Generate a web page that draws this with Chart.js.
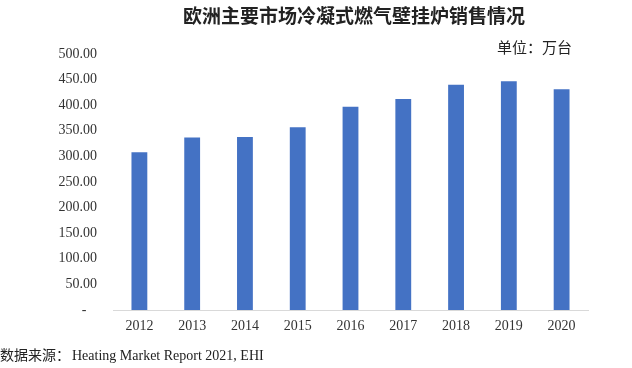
<!DOCTYPE html>
<html>
<head>
<meta charset="utf-8">
<script src="https://cdn.jsdelivr.net/npm/chart.js@4"></script>
<style>
  html, body { margin: 0; padding: 0; background: #fff; }
  #wrap { position: relative; width: 632px; height: 368px; }
  #title { position: absolute; left: 183px; top: 1px; font: bold 19px "Noto Sans CJK SC"; color: #222; white-space: nowrap; }
  #unit { position: absolute; left: 497px; top: 36px; font: 15px "Noto Sans CJK SC"; color: #222; white-space: nowrap; }
  #source { position: absolute; left: 0px; top: 344px; font: 14px "Liberation Serif", "Noto Sans CJK SC"; color: #222; white-space: nowrap; }
  #source span { font-family: "Noto Sans CJK SC"; font-size: 14px; margin-right: 2px; }
</style>
</head>
<body>
<div id="wrap">
  <canvas id="grafico" width="632" height="368"></canvas>
  <div id="title">欧洲主要市场冷凝式燃气壁挂炉销售情况</div>
  <div id="unit">单位：万台</div>
  <div id="source"><span>数据来源：</span>Heating Market Report 2021, EHI</div>
</div>
<script>
const years = ['2012', '2013', '2014', '2015', '2016', '2017', '2018', '2019', '2020'];
const sales = [308, 337, 338, 357, 397, 412, 440, 447, 431];
const yTicks = [0, 50, 100, 150, 200, 250, 300, 350, 400, 450, 500];

const ctx = document.getElementById('grafico').getContext('2d');

new Chart(ctx, {
  type: 'bar',
  data: {
    labels: years,
    datasets: [{
      data: sales,
      backgroundColor: '#4472C4',
      barPercentage: 0.3,
      categoryPercentage: 1
    }]
  },
  options: {
    responsive: false,
    animation: false,
    layout: { padding: { left: 0, right: 44, top: 54, bottom: 28 } },
    plugins: {
      legend: { display: false },
      tooltip: { enabled: false }
    },
    scales: {
      x: {
        grid: { display: false, drawTicks: false },
        border: { color: '#d9d9d9', width: 1 },
        ticks: { color: '#333', padding: 8, font: { family: 'Liberation Serif', size: 14 } },
        afterFit: s => { s.height = 30; }
      },
      y: {
        min: 0,
        max: 500,
        afterBuildTicks: s => { s.ticks = yTicks.map(v => ({ value: v })); },
        grid: { display: false, drawTicks: false },
        border: { display: false },
        ticks: {
          color: '#333',
          padding: 16,
          font: { family: 'Liberation Serif', size: 14 },
          callback: v => v === 0 ? '-   ' : v.toFixed(2)
        },
        afterFit: s => { s.width = 113; }
      }
    }
  }
});
</script>
</body>
</html>
